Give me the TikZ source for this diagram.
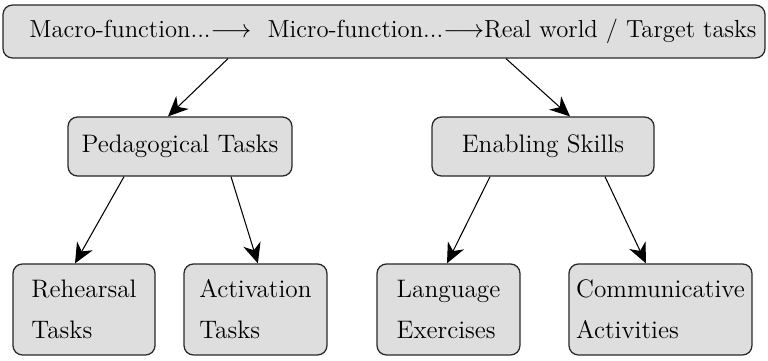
\documentclass[tikz,border=0pt]{standalone}
\usetikzlibrary{arrows.meta}

\definecolor{boxgray}{RGB}{222,222,222}
\definecolor{boxline}{RGB}{40,40,40}

\tikzset{
	taskbox/.style={draw=boxline, fill=boxgray, line width=0.6pt, rounded corners=4.5pt, inner xsep=0pt, inner ysep=0pt, font=\fontsize{12}{19.5}\selectfont},
	link/.style={line width=0.5pt, -{Stealth[length=9.5pt, width=8.5pt, inset=3pt]}}
}

\begin{document}
\begin{tikzpicture}
	\useasboundingbox (0,0) rectangle (12.8,6);

	\node[taskbox, minimum width=12.7cm, minimum height=0.883cm, font=\fontsize{11.7}{14}\selectfont] (top) at (6.4,5.475) {\hspace*{0.3cm}Macro-function...$\longrightarrow$\ \ Micro-function...$\longrightarrow$Real world / Target tasks};

	\node[taskbox, minimum width=3.733cm, minimum height=0.983cm] (ped) at (3.0,3.558) {Pedagogical Tasks};
	\node[taskbox, minimum width=3.7cm, minimum height=0.983cm] (ena) at (9.05,3.558) {Enabling Skills};

	\node[taskbox, align=left, minimum width=2.367cm, minimum height=1.517cm] (reh) at (1.4,0.842) {Rehearsal\\Tasks};
	\node[taskbox, align=left, minimum width=2.383cm, minimum height=1.517cm] (act) at (4.258,0.842) {Activation\\Tasks};
	\node[taskbox, align=left, minimum width=2.383cm, minimum height=1.517cm] (lang) at (7.475,0.842) {Language\\Exercises};
	\node[taskbox, align=left, minimum width=3.05cm, minimum height=1.517cm] (comm) at (11.008,0.842) {Communicative\\Activities};

	\draw[link] ([xshift=-2.6cm]top.south) -- ([xshift=-0.2cm]ped.north);
	\draw[link] ([xshift=2.033cm]top.south) -- ([xshift=0.45cm]ena.north);

	\draw[link] ([xshift=-0.933cm]ped.south) -- ([xshift=-0.15cm]reh.north);
	\draw[link] ([xshift=0.85cm]ped.south) -- ([xshift=0.04cm]act.north);

	\draw[link] ([xshift=-0.883cm]ena.south) -- ([xshift=-0.025cm]lang.north);
	\draw[link] ([xshift=1.033cm]ena.south) -- ([xshift=-0.242cm]comm.north);
\end{tikzpicture}
\end{document}
